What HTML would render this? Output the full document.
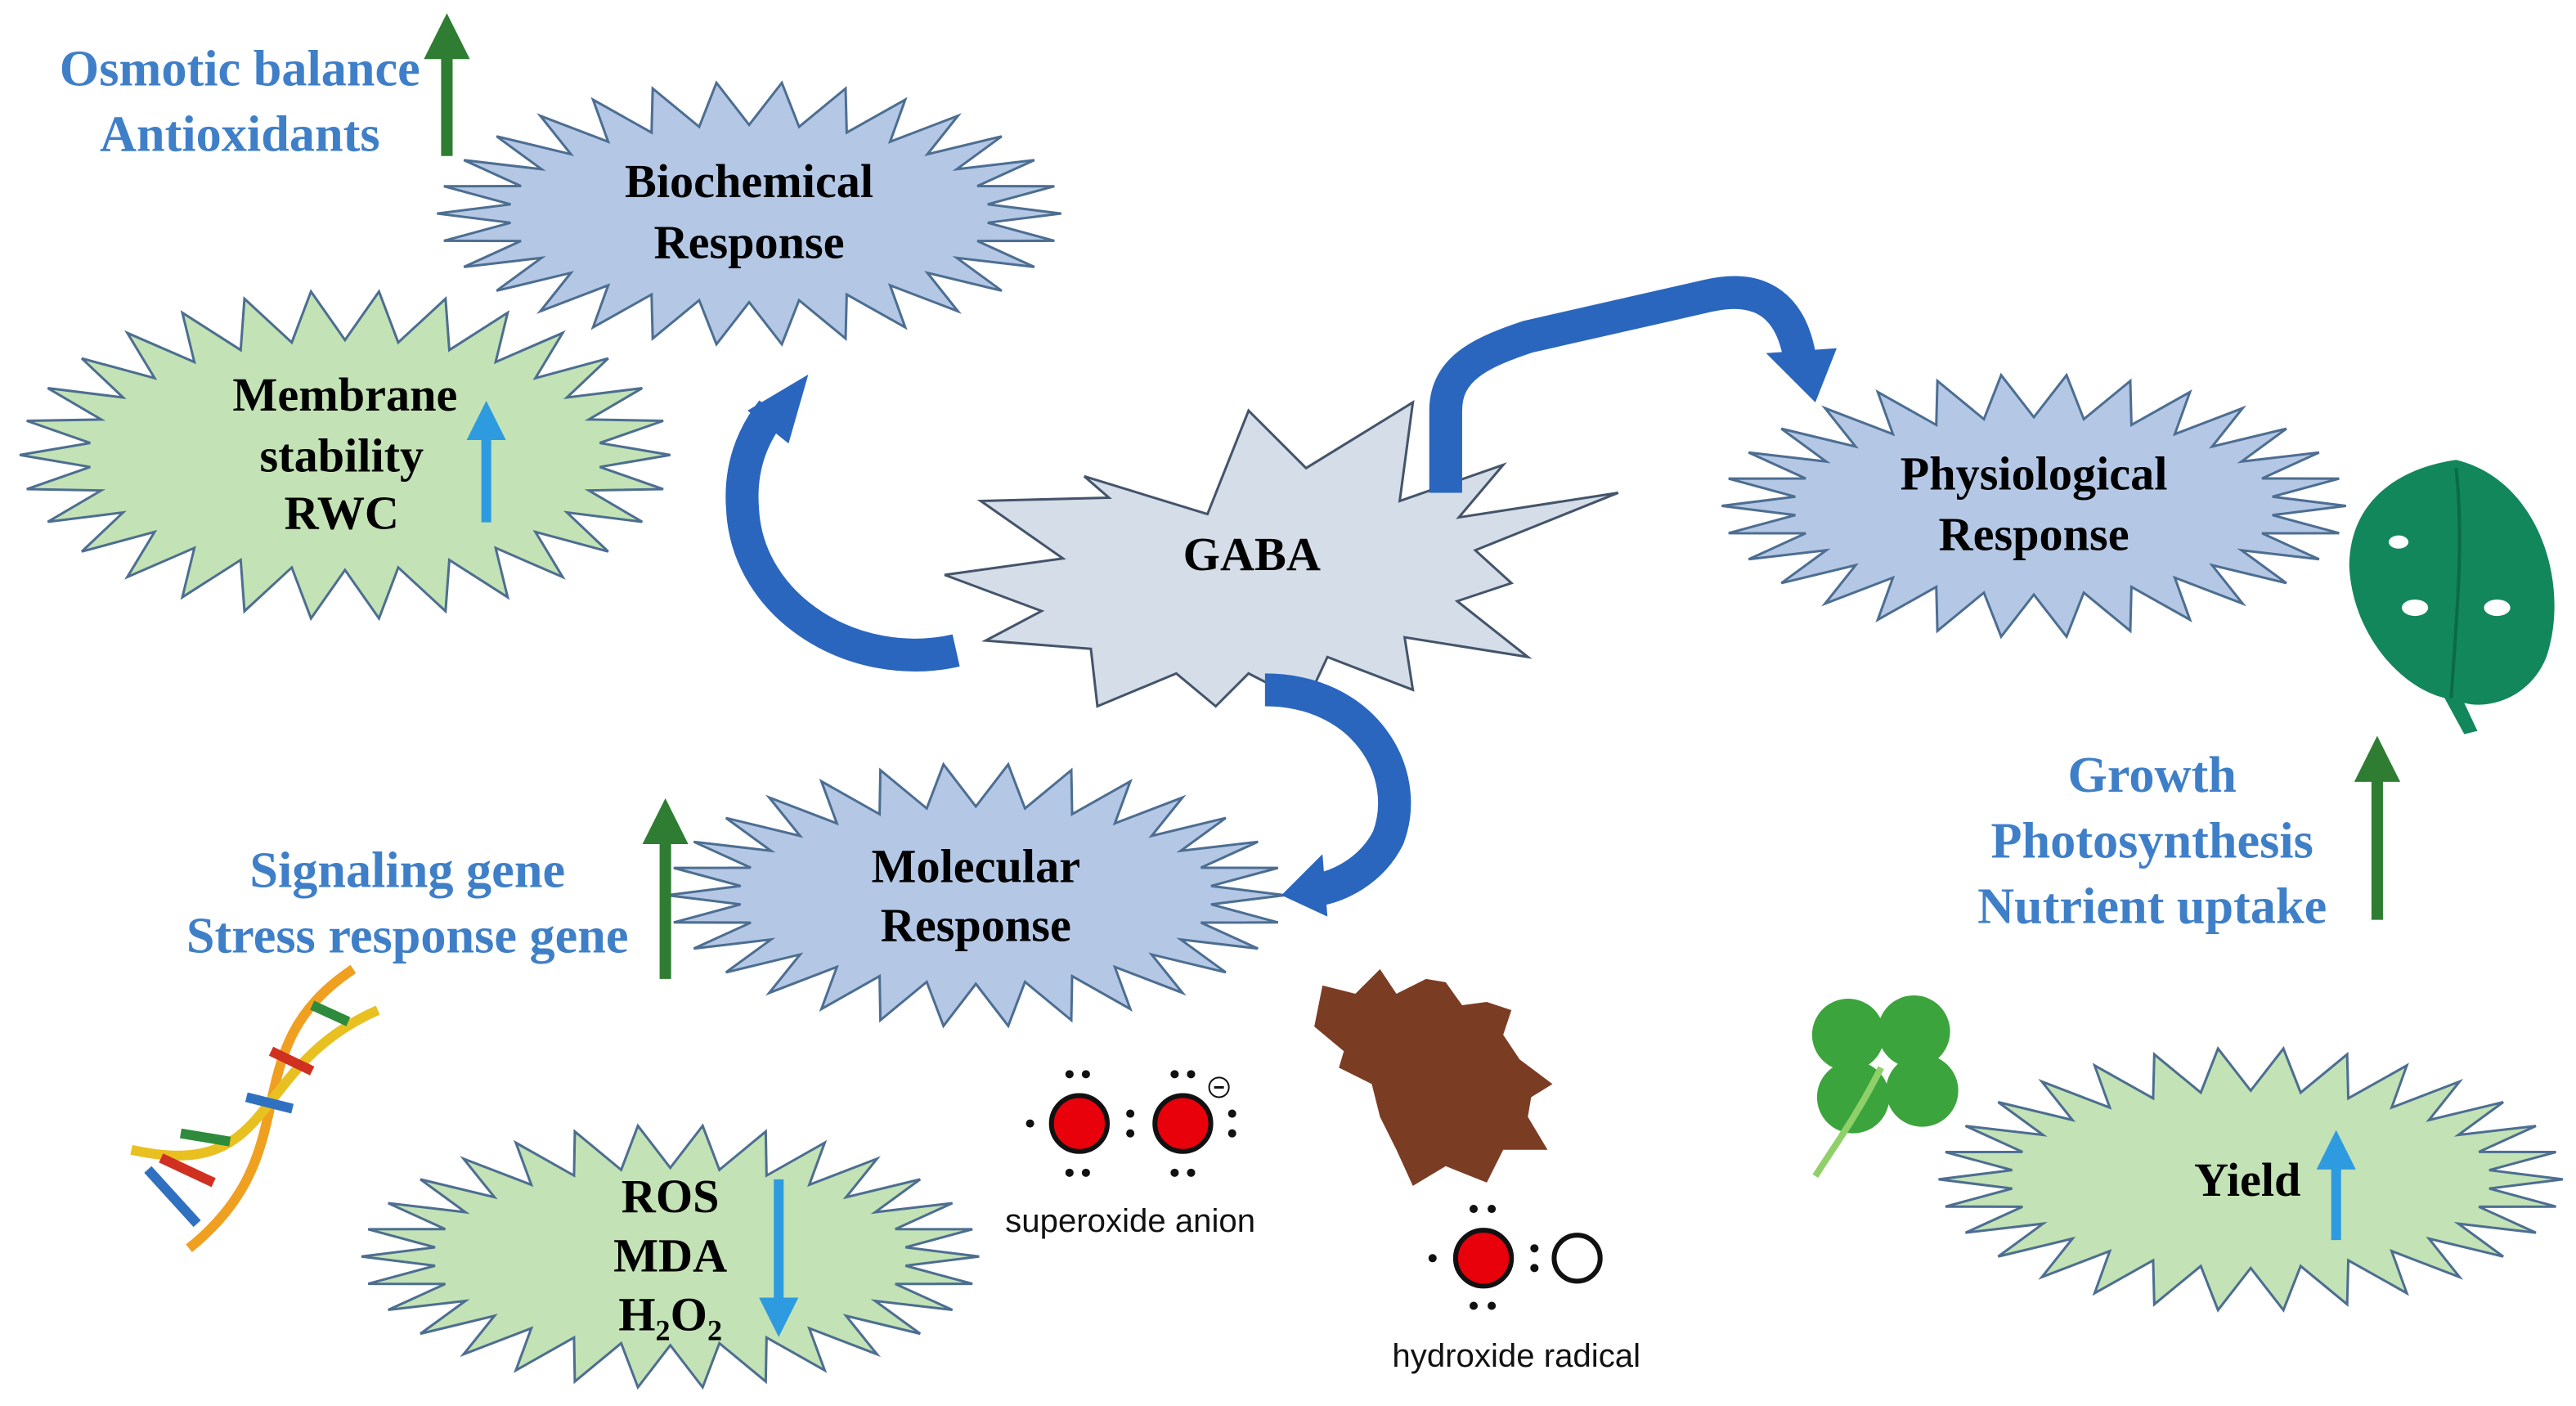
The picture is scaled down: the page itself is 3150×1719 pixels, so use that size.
<!DOCTYPE html>
<html><head><meta charset="utf-8"><style>
html,body{margin:0;padding:0;background:#fff;}
svg{display:block;}
.t{font-family:"Liberation Serif",serif;font-weight:bold;font-size:29px;fill:#000;text-anchor:middle;}
.b{font-family:"Liberation Serif",serif;font-weight:bold;font-size:31px;fill:#3f7fc8;text-anchor:middle;}
.s{font-family:"Liberation Sans",sans-serif;font-size:20px;fill:#111;text-anchor:middle;}
</style></head><body>
<svg id="sv" width="3150" height="1719" viewBox="0 0 1568 856" preserveAspectRatio="none" xmlns="http://www.w3.org/2000/svg">
<defs>
<marker id="ga" markerWidth="4" markerHeight="4" refX="2" refY="2" orient="auto" markerUnits="strokeWidth"><path d="M0,0 L4,2 L0,4z" fill="#2e7d32"/></marker>
<marker id="ba" markerWidth="4" markerHeight="4" refX="2" refY="2" orient="auto" markerUnits="strokeWidth"><path d="M0,0 L4,2 L0,4z" fill="#2e9be0"/></marker>
</defs>
<g id="stars"></g>

<polygon points="660,290 735,313 760,250 795,285 860,245 852,305 915,283 888,315 985,300 898,335 920,355 887,366 930,400 855,388 860,420 808,400 795,428 760,410 740,430 716,410 668,430 664,395 600,390 634,372 575,350 647,340 597,305 675,303" fill="#d5dde8" stroke="#44546a" stroke-width="1.5"/>

<g fill="none" stroke="#2a66bd" stroke-width="20">
<path d="M582,396 C520,410 455,370 452,310 C450,285 458,265 470,250"/>
<path d="M880,300 L880,250 C880,225 900,215 930,205 L1040,180 C1075,172 1090,190 1095,215"/>
<path d="M770,420 C830,420 860,470 845,510 C835,530 815,540 800,542"/>
</g>
<polygon points="455,250 492,228 480,270" fill="#2a66bd"/>
<polygon points="1075,215 1118,212 1105,245" fill="#2a66bd"/>
<polygon points="805,520 780,545 808,558" fill="#2a66bd"/>

<text class="t" x="456" y="120">Biochemical</text>
<text class="t" x="456" y="157">Response</text>
<text class="t" x="210" y="250">Membrane</text>
<text class="t" x="208" y="287">stability</text>
<text class="t" x="208" y="322">RWC</text>
<text class="t" x="762" y="347">GABA</text>
<text class="t" x="1238" y="298">Physiological</text>
<text class="t" x="1238" y="335">Response</text>
<text class="t" x="594" y="537">Molecular</text>
<text class="t" x="594" y="573">Response</text>
<text class="t" x="408" y="738">ROS</text>
<text class="t" x="408" y="774">MDA</text>
<text class="t" x="408" y="810">H<tspan font-size="18" dy="6">2</tspan><tspan dy="-6">O</tspan><tspan font-size="18" dy="6">2</tspan></text>
<text class="t" x="1368" y="728">Yield</text>

<text class="b" x="146" y="52">Osmotic balance</text>
<text class="b" x="146" y="92">Antioxidants</text>
<text class="b" x="248" y="540">Signaling gene</text>
<text class="b" x="248" y="580">Stress response gene</text>
<text class="b" x="1310" y="482">Growth</text>
<text class="b" x="1310" y="522">Photosynthesis</text>
<text class="b" x="1310" y="562">Nutrient uptake</text>

<line x1="272" y1="95" x2="272" y2="22" stroke="#2e7d32" stroke-width="7" marker-end="url(#ga)"/>
<line x1="405" y1="596" x2="405" y2="500" stroke="#2e7d32" stroke-width="7" marker-end="url(#ga)"/>
<line x1="1447" y1="560" x2="1447" y2="462" stroke="#2e7d32" stroke-width="7" marker-end="url(#ga)"/>
<line x1="296" y1="318" x2="296" y2="256" stroke="#2e9be0" stroke-width="6" marker-end="url(#ba)"/>
<line x1="474" y1="718" x2="474" y2="802" stroke="#2e9be0" stroke-width="6" marker-end="url(#ba)"/>
<line x1="1422" y1="755" x2="1422" y2="700" stroke="#2e9be0" stroke-width="6" marker-end="url(#ba)"/>

<circle cx="657" cy="684" r="17" fill="#e8000b" stroke="#111" stroke-width="3"/>
<circle cx="720" cy="684" r="17" fill="#e8000b" stroke="#111" stroke-width="3"/>
<g fill="#111">
<circle cx="651" cy="654" r="2.5"/><circle cx="661" cy="654" r="2.5"/><circle cx="651" cy="714" r="2.5"/><circle cx="661" cy="714" r="2.5"/>
<circle cx="627" cy="684" r="2.5"/><circle cx="688" cy="678" r="2.5"/><circle cx="688" cy="690" r="2.5"/>
<circle cx="715" cy="654" r="2.5"/><circle cx="725" cy="654" r="2.5"/><circle cx="715" cy="714" r="2.5"/><circle cx="725" cy="714" r="2.5"/>
<circle cx="750" cy="678" r="2.5"/><circle cx="750" cy="690" r="2.5"/>
<circle cx="897" cy="736" r="2.5"/><circle cx="908" cy="736" r="2.5"/><circle cx="897" cy="795" r="2.5"/><circle cx="908" cy="795" r="2.5"/>
<circle cx="872" cy="766" r="2.5"/><circle cx="934" cy="760" r="2.5"/><circle cx="934" cy="772" r="2.5"/>
</g>
<circle cx="742" cy="662" r="6" fill="#fff" stroke="#111" stroke-width="1"/><line x1="739" y1="662" x2="745" y2="662" stroke="#111" stroke-width="1.5"/>
<text class="s" x="688" y="750">superoxide anion</text>
<circle cx="903" cy="766" r="17" fill="#e8000b" stroke="#111" stroke-width="3"/>
<circle cx="960" cy="766" r="14" fill="#fff" stroke="#111" stroke-width="3"/>
<text class="s" x="923" y="832">hydroxide radical</text>

<path d="M805,600 L825,605 L840,590 L850,605 L868,596 L880,598 L890,612 L905,610 L920,615 L915,630 L925,645 L945,660 L932,668 L930,680 L942,700 L915,700 L905,720 L880,710 L860,722 L850,700 L840,680 L835,660 L815,650 L818,640 L800,625 Z" fill="#7b3c24"/>
<path d="M1495,280 C1545,292 1565,355 1550,400 C1540,425 1515,432 1500,428 L1508,445 L1500,447 L1488,425 C1460,418 1432,385 1430,345 C1430,305 1460,285 1495,280 Z" fill="#12875c"/>
<path d="M1495,285 C1500,330 1495,380 1492,425" stroke="#0b6a47" stroke-width="2" fill="none"/>
<ellipse cx="1470" cy="370" rx="8" ry="5" fill="#fff"/><ellipse cx="1520" cy="370" rx="8" ry="5" fill="#fff"/><ellipse cx="1460" cy="330" rx="6" ry="4" fill="#fff"/>
<g fill="#3ca43c">
<circle cx="1125" cy="630" r="22"/><circle cx="1165" cy="628" r="22"/><circle cx="1128" cy="668" r="22"/><circle cx="1170" cy="664" r="22"/>
</g>
<path d="M1145,650 C1130,680 1115,700 1105,716" stroke="#8fd06a" stroke-width="4" fill="none"/>
<g fill="none" stroke-width="6">
<path d="M215,590 C140,640 190,700 115,760" stroke="#f0a020"/>
<path d="M230,615 C150,650 170,720 80,700" stroke="#e8c020"/>
</g>
<g stroke-width="6">
<line x1="190" y1="612" x2="212" y2="622" stroke="#2e8b3c"/>
<line x1="165" y1="640" x2="190" y2="652" stroke="#d03020"/>
<line x1="150" y1="668" x2="178" y2="675" stroke="#3070c0"/>
<line x1="140" y1="695" x2="110" y2="690" stroke="#2e8b3c"/>
<line x1="130" y1="720" x2="98" y2="705" stroke="#d03020"/>
<line x1="120" y1="745" x2="90" y2="712" stroke="#3070c0"/>
</g>
</svg>
<script>
function star(cx,cy,rx,ry,irx,iry,n,fill,stroke,rot){
 var p=[];for(var i=0;i<2*n;i++){var a=Math.PI*i/n+(rot||0);var o=i%2==0;
 p.push((cx+(o?rx:irx)*Math.cos(a)).toFixed(1)+","+(cy+(o?ry:iry)*Math.sin(a)).toFixed(1));}
 return '<polygon points="'+p.join(" ")+'" fill="'+fill+'" stroke="'+stroke+'" stroke-width="1.5"/>';}
var bl="#b4c8e6",bs="#4d6e91",gr="#c3e2b5",gs="#4d6e91";
document.getElementById("stars").innerHTML=
 star(456,130,190,80,146,54,30,bl,bs)+
 star(210,277,198,100,156,70,30,gr,gs)+
 star(1238,308,190,80,146,54,30,bl,bs)+
 star(594,545,188,80,144,54,30,bl,bs)+
 star(408,765,188,80,144,54,30,gr,gs)+
 star(1370,718,190,80,146,54,30,gr,gs);
</script>
</body></html>
